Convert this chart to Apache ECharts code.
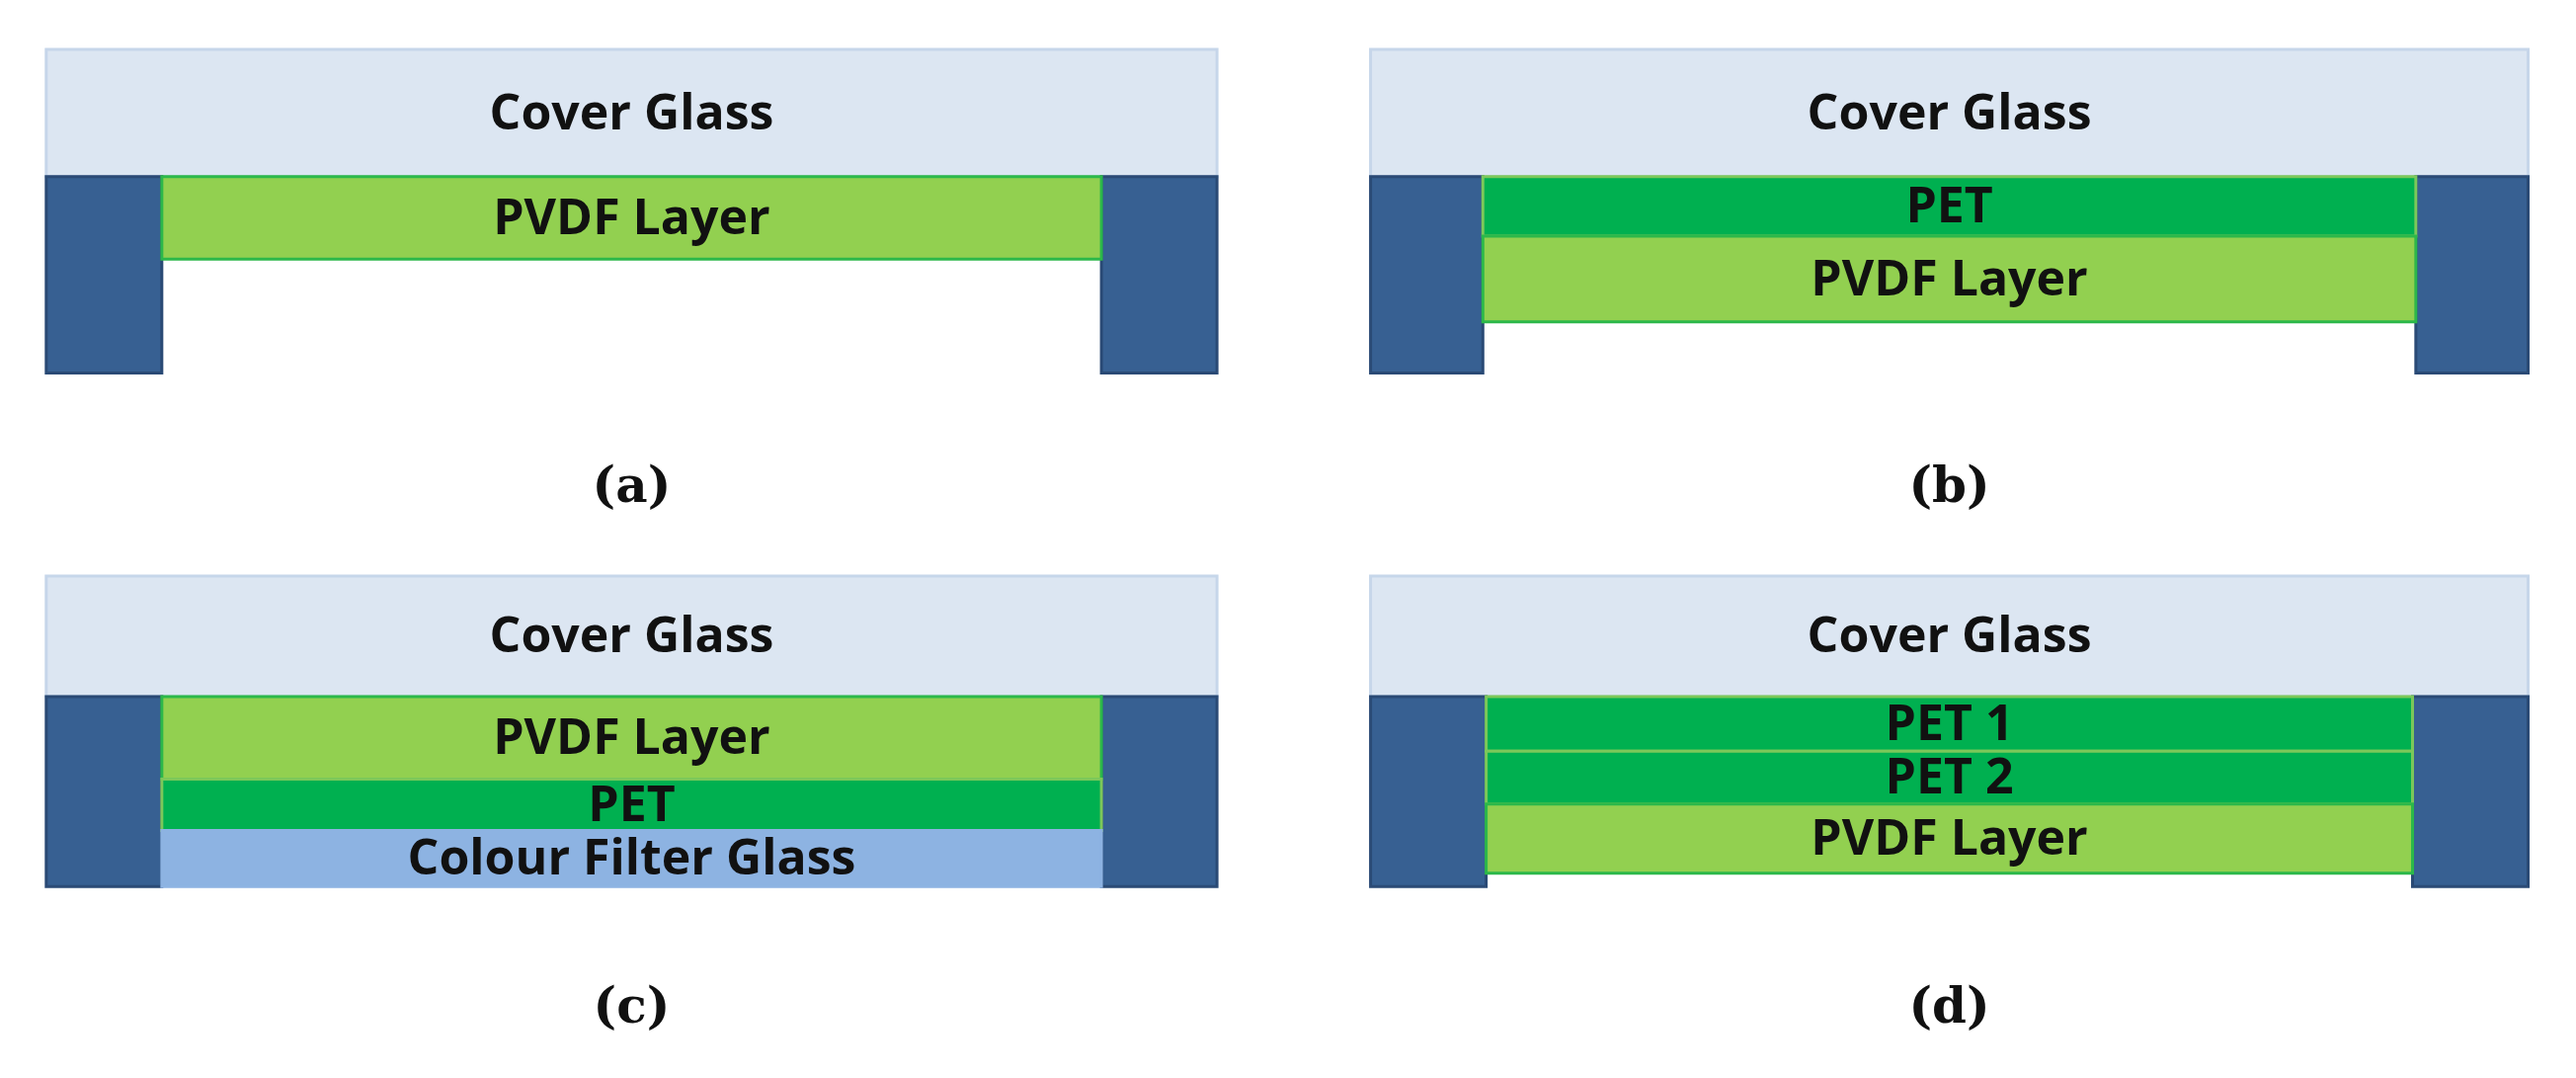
<!DOCTYPE html>
<html>
<head>
<meta charset="utf-8">
<script src="https://cdn.jsdelivr.net/npm/echarts@6/dist/echarts.min.js"></script>
<style>html,body{margin:0;padding:0;background:#fff}#main{width:2608px;height:1091px}</style>
</head>
<body>
<div id="main"></div>
<script>
// diagram units: 1560 x 653 (scaled to the window by the axes)
var panelNames = ['(a)', '(b)', '(c)', '(d)'];
var panelLeft = [28, 830, 28, 830];
var panelRight = [737, 1531, 737, 1531];
var coverTop = [30, 30, 349, 349];
var coverBottom = [107, 107, 422, 422];
var pillarBottom = [226, 226, 537, 537];
var pillarWidth = [70, 68, 70, 70];
var captionY = [296, 296, 612, 612];
// layers under the cover glass: [panel, name, kind, top, bottom]
var layers = [
  [0, 'PVDF Layer', 'pvdf', 107, 157],
  [1, 'PET', 'pet', 107, 143],
  [1, 'PVDF Layer', 'pvdf', 143, 195],
  [2, 'PVDF Layer', 'pvdf', 422, 472],
  [2, 'PET', 'pet', 472, 503],
  [2, 'Colour Filter Glass', 'filter', 503, 537],
  [3, 'PET 1', 'pet', 422, 455],
  [3, 'PET 2', 'pet', 455, 487],
  [3, 'PVDF Layer', 'pvdf', 487, 529]
];
var fills = {cover: '#dce6f2', pillar: '#376092', pvdf: '#92d050', pet: '#00b050', filter: '#8db3e2'};
var strokes = {cover: '#c6d6ea', pillar: '#2a4a75', pvdf: '#2cb84a', pet: '#7cc85a', filter: '#8db3e2'};
var FONT = '"Open Sans", "Liberation Sans", sans-serif';

var rects = [];
for (var i = 0; i < 4; i++) {
  rects.push([panelLeft[i], coverTop[i], panelRight[i], coverBottom[i], 'cover', 'Cover Glass']);
  rects.push([panelLeft[i], coverBottom[i], panelLeft[i] + pillarWidth[i], pillarBottom[i], 'pillar', '']);
  rects.push([panelRight[i] - pillarWidth[i], coverBottom[i], panelRight[i], pillarBottom[i], 'pillar', '']);
}
layers.forEach(function (l) {
  rects.push([panelLeft[l[0]] + pillarWidth[l[0]], l[3], panelRight[l[0]] - pillarWidth[l[0]], l[4], l[2], l[1]]);
});
var captions = panelNames.map(function (n, i) { return [(panelLeft[i] + panelRight[i]) / 2, captionY[i], n]; });

var chart = echarts.init(document.getElementById('main'));
chart.setOption({
  animation: false,
  grid: {left: 0, right: 0, top: 0, bottom: 0},
  xAxis: {type: 'value', min: 0, max: 1560, show: false},
  yAxis: {type: 'value', min: 0, max: 653, inverse: true, show: false},
  series: [{
    type: 'custom',
    data: rects,
    renderItem: function (params, api) {
      var p0 = api.coord([api.value(0), api.value(1)]);
      var p1 = api.coord([api.value(2), api.value(3)]);
      var kind = rects[params.dataIndex][4];
      var label = rects[params.dataIndex][5];
      var h = p1[1] - p0[1];
      var fs = kind === 'cover' ? 50 : Math.min(50, h * 0.98);
      return {
        type: 'group',
        children: [{
          type: 'rect',
          shape: {x: p0[0], y: p0[1], width: p1[0] - p0[0], height: h},
          style: {fill: fills[kind], stroke: strokes[kind], lineWidth: 3}
        }, {
          type: 'text',
          style: {
            text: label, x: (p0[0] + p1[0]) / 2, y: (p0[1] + p1[1]) / 2 + 2,
            align: 'center', verticalAlign: 'middle',
            font: '700 ' + fs + 'px ' + FONT, fill: '#111'
          }
        }]
      };
    }
  }, {
    type: 'custom',
    data: captions,
    renderItem: function (params, api) {
      var p = api.coord([api.value(0), api.value(1)]);
      return {
        type: 'text',
        style: {
          text: captions[params.dataIndex][2], x: p[0], y: p[1],
          align: 'center', verticalAlign: 'middle',
          font: '700 50px "DejaVu Serif", serif', fill: '#111'
        }
      };
    }
  }]
});
</script>
</body>
</html>
